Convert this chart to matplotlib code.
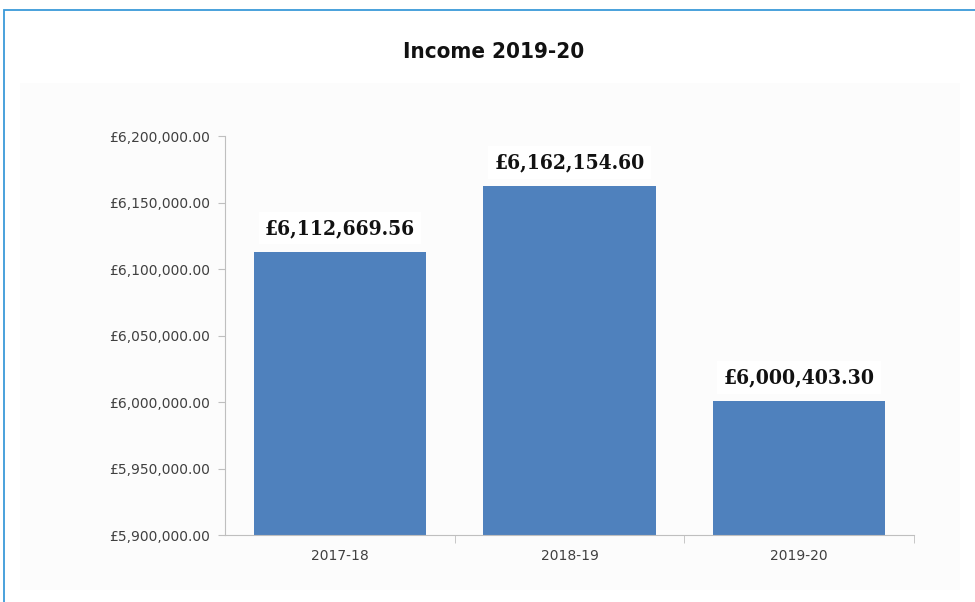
import matplotlib
matplotlib.use("Agg")
import matplotlib.pyplot as plt
from matplotlib.patches import Rectangle
from matplotlib.ticker import FuncFormatter, MultipleLocator

categories = ["2017-18", "2018-19", "2019-20"]
values = [6112669.56, 6162154.60, 6000403.30]
value_labels = ["£6,112,669.56", "£6,162,154.60", "£6,000,403.30"]
title = "Income 2019-20"

fig = plt.figure(figsize=(9.75, 6.02), dpi=100)
fig.patch.set_facecolor("white")

# faint chart-area panel
fig.patches.append(Rectangle((20/975, 1 - 590/602), 940/975, (590-83)/602, transform=fig.transFigure,
                             fill=True, facecolor="#fcfcfc", edgecolor="none", zorder=-2))
# outer frame
fig.patches.append(Rectangle((4/975, -0.05), 1.1, (602-10)/602 + 0.05, transform=fig.transFigure,
                             fill=False, edgecolor="#3a9ad9", linewidth=1.3, zorder=-1))

fig.text(494/975, 1 - 58/602, title, ha="center", va="baseline", fontsize=16,
         fontweight="bold", fontstretch="condensed", family="DejaVu Sans", color="#111111")

ax = fig.add_axes([225/975, 1 - 535/602, (914-225)/975, (535-136)/602])
ax.set_zorder(2)
ax.patch.set_alpha(0)
x = range(len(categories))
ax.bar(x, values, width=0.75, color="#4f81bd", zorder=2)
ax.set_xlim(-0.5, 2.5)
ax.set_ylim(5900000, 6200000)
ax.yaxis.set_major_locator(MultipleLocator(50000))
ax.yaxis.set_major_formatter(FuncFormatter(lambda v, p: "£{:,.2f}".format(v)))
ax.set_xticks(list(x))
ax.set_xticklabels(categories)
ax.set_xticks([0.5, 1.5, 2.5], minor=True)
ax.tick_params(axis="x", which="major", length=0, pad=10, labelsize=10, labelcolor="#404040")
ax.tick_params(axis="x", which="minor", length=6, color="#bfbfbf", direction="out")
ax.tick_params(axis="y", length=5, color="#bfbfbf", labelsize=10, labelcolor="#404040", pad=6)
for s in ["top", "right"]:
    ax.spines[s].set_visible(False)
for s in ["left", "bottom"]:
    ax.spines[s].set_color("#bfbfbf")

for i, (v, lab) in enumerate(zip(values, value_labels)):
    ax.annotate(lab, (i, v), xytext=(0, 13), textcoords="offset points", ha="center",
                va="baseline", fontsize=15, fontweight="bold", fontstretch="condensed",
                family="DejaVu Serif", color="#111111", zorder=3,
                bbox=dict(boxstyle="square,pad=0.3", fc="white", ec="none"))

fig.savefig("out.png", dpi=100)
